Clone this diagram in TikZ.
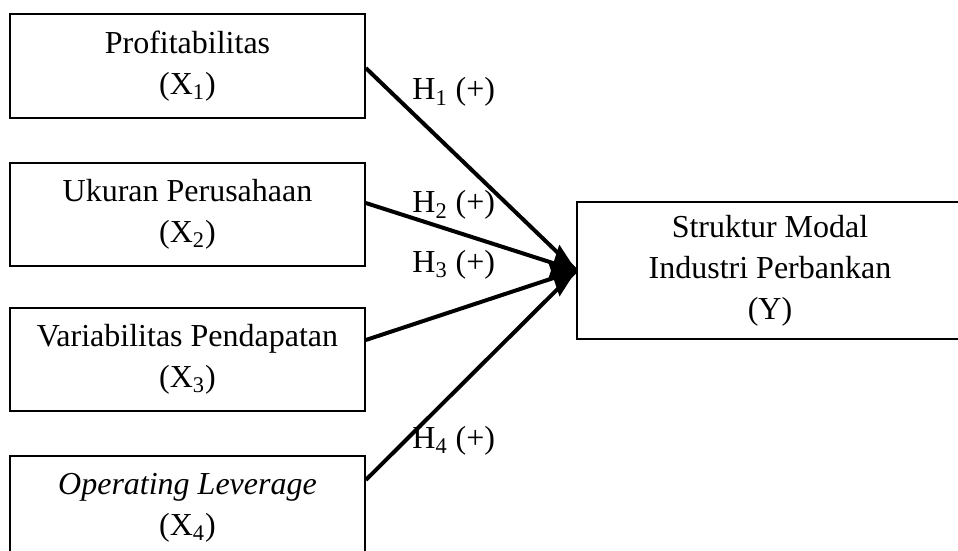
\documentclass[tikz,border=0pt]{standalone}
\usepackage{fontspec}
\setmainfont{Liberation Serif}
\usepackage{tikz}
\usetikzlibrary{arrows.meta}

\begin{document}
\begin{tikzpicture}[x=0.5pt,y=-0.5pt,
  varbox/.style={draw,line width=0.8pt,inner sep=0pt,align=center,
    font=\fontsize{16}{20.5}\selectfont},
  path/.style={line width=2pt},
  hlabel/.style={anchor=base west,inner sep=0pt,font=\fontsize{16}{20}\selectfont}]
  \path[use as bounding box,clip] (0,0) rectangle (958,551);
  % variabel independen di kiri, variabel dependen di kanan
  \node[varbox,minimum width=177.5pt,minimum height=52pt] (x1) at (187.5,66) {Profitabilitas\\(X\textsubscript{1})};
  \node[varbox,minimum width=177.5pt,minimum height=51.5pt] (x2) at (187.5,214.5) {Ukuran Perusahaan\\(X\textsubscript{2})};
  \node[varbox,minimum width=177.5pt,minimum height=51.5pt] (x3) at (187.5,359.5) {Variabilitas Pendapatan\\(X\textsubscript{3})};
  \node[varbox,minimum width=177.5pt,minimum height=51.5pt] (x4) at (187.5,507.5) {\textit{Operating Leverage}\\(X\textsubscript{4})};
  \node[varbox,minimum width=193pt,minimum height=68.5pt] (y) at (770,270.5) {Struktur Modal\\Industri Perbankan\\(Y)};
  \draw[path] ([yshift=-1pt]x1.east) -- (y.west);
  \draw[path,-{Triangle[length=12pt,width=19pt]}] ([yshift=5.75pt]x2.east) -- (y.west);
  \draw[path,-{Triangle[length=12pt,width=19pt]}] ([yshift=9.75pt]x3.east) -- (y.west);
  \draw[path] ([yshift=13.75pt]x4.east) -- (y.west);
  \node[hlabel] (h1) at (412,100) {H\textsubscript{1} (+)};
  \node[hlabel] (h2) at (412,213) {H\textsubscript{2} (+)};
  \node[hlabel] (h3) at (412,272) {H\textsubscript{3} (+)};
  \node[hlabel] (h4) at (412,448) {H\textsubscript{4} (+)};
\end{tikzpicture}
\end{document}
